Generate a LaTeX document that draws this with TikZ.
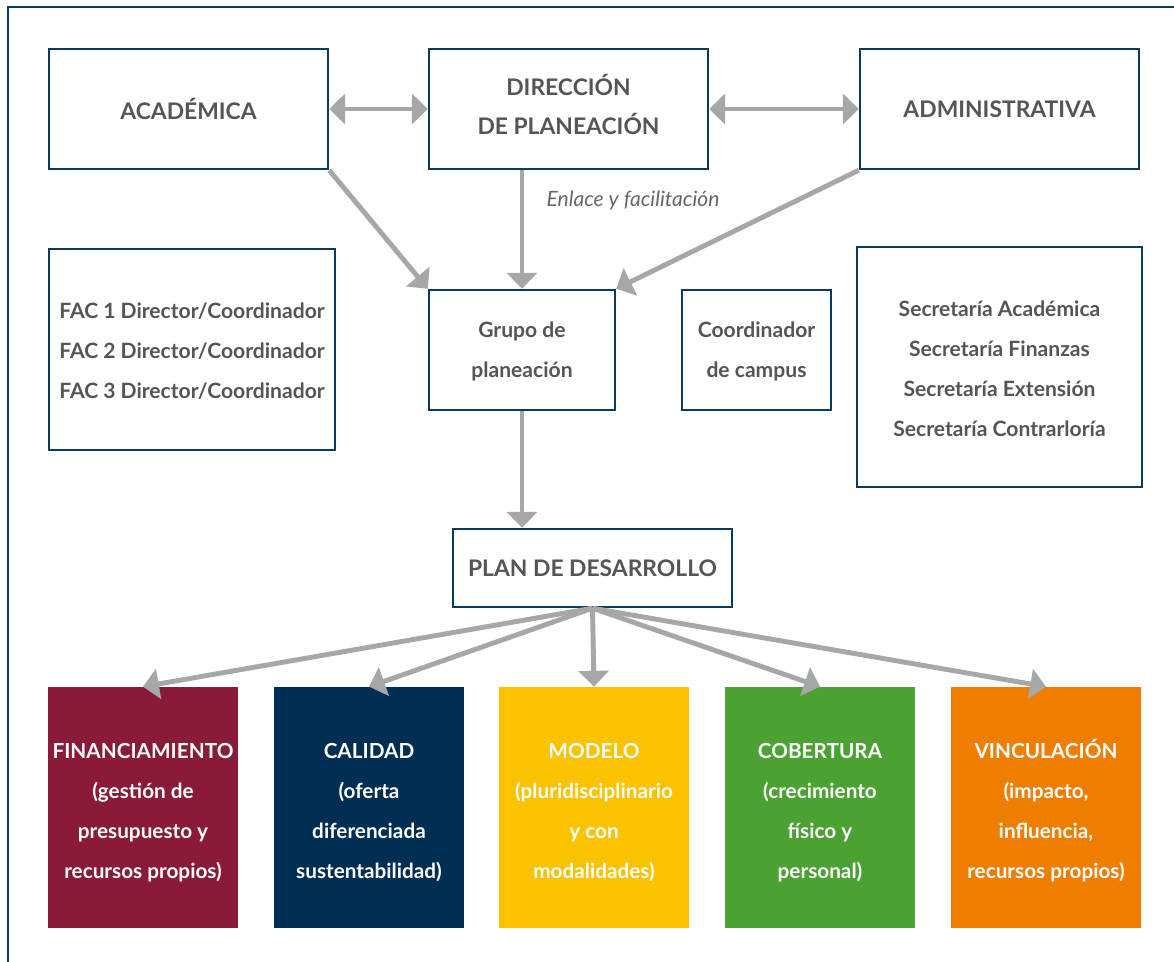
\documentclass[tikz,border=0pt]{standalone}
\usepackage{fontspec}
\setmainfont{Lato}
\usetikzlibrary{arrows.meta}

\definecolor{framecolor}{HTML}{0D3A5F}
\definecolor{textgray}{HTML}{555555}
\definecolor{arrowgray}{HTML}{A6A7A9}
\definecolor{fincolor}{HTML}{8A1B38}
\definecolor{calcolor}{HTML}{002E52}
\definecolor{modcolor}{HTML}{FBC200}
\definecolor{cobcolor}{HTML}{4BA232}
\definecolor{vincolor}{HTML}{EF7D00}

\begin{document}
\begin{tikzpicture}
  [x=0.02cm,y=-0.02cm,
   % Styles
   box/.style={draw=framecolor,line width=1.4pt,fill=white,inner sep=0pt,
     text=textgray,align=center},
   big text/.style={font=\bfseries\fontsize{13}{22.2}\selectfont},
   small text/.style={font=\bfseries\fontsize{12}{22.8}\selectfont},
   area/.style={inner sep=0pt,minimum width=3.8cm,text height=3.84cm,text depth=0.98cm,
     text=white,align=center,font=\bfseries\fontsize{11.8}{22.8}\selectfont},
   link/.style={draw=arrowgray,line width=2.8pt,
     -{Triangle[length=9pt,width=17pt]}},
   both link/.style={link,{Triangle[length=9pt,width=17pt]}-{Triangle[length=9pt,width=17pt]}}]

  \useasboundingbox (0,0) rectangle (1174,962);

  % Frame
  \draw[framecolor,line width=1.3pt] (8,962) -- (8,7) -- (1174,7);

  % Top row
  \node[box,big text,minimum width=5.58cm,minimum height=2.4cm] (acad) at (188.5,109) {ACADÉMICA};
  \node[box,big text,minimum width=5.58cm,text height=1.72cm,text depth=0.68cm] (direc) at (568.5,109) {DIRECCIÓN\\DE PLANEACIÓN};
  \node[box,big text,minimum width=5.58cm,minimum height=2.4cm] (admin) at (999.5,109) {ADMINISTRATIVA};

  % Middle row
  \node[box,small text,minimum width=5.72cm,text height=3.0cm,text depth=1.02cm] (fac) at (192,349.5)
    {FAC 1 Director/Coordinador\\FAC 2 Director/Coordinador\\FAC 3 Director/Coordinador};
  \node[box,small text,minimum width=3.72cm,text height=1.76cm,text depth=0.64cm] (grupo) at (522,350) {Grupo de\\planeación};
  \node[box,small text,minimum width=2.98cm,text height=1.76cm,text depth=0.64cm] (campus) at (756.5,350) {Coordinador\\de campus};
  \node[box,small text,minimum width=5.7cm,text height=3.8cm,text depth=1.0cm] (secre) at (999.5,367)
    {Secretaría Académica\\Secretaría Finanzas\\Secretaría Extensión\\Secretaría Contrarloría};

  \node[box,big text,minimum width=5.58cm,minimum height=1.56cm] (plan) at (592.5,568) {PLAN DE DESARROLLO};

  % Bottom row
  \node[area,fill=fincolor] (fin) at (143,807.5) {FINANCIAMIENTO\\(gestión de\\presupuesto y\\recursos propios)};
  \node[area,fill=calcolor] (cal) at (369,807.5) {CALIDAD\\(oferta\\diferenciada\\sustentabilidad)};
  \node[area,fill=modcolor] (mod) at (594,807.5) {MODELO\\(pluridisciplinario\\y con\\modalidades)};
  \node[area,fill=cobcolor] (cob) at (820,807.5) {COBERTURA\\(crecimiento\\físico y\\personal)};
  \node[area,fill=vincolor] (vin) at (1046,807.5) {VINCULACIÓN\\(impacto,\\influencia,\\recursos propios)};

  \node[text=textgray!90,font=\itshape\fontsize{12}{14}\selectfont] (enlace) at (633,201) {Enlace y facilitación};

  % Connectors
  \draw[both link] (acad) -- (direc);
  \draw[both link] (direc) -- (admin);
  \draw[link] (acad.south east) -- (grupo.north west);
  \draw[link] (grupo.north |- direc.south) -- (grupo.north);
  \draw[link] (admin.south west) -- (grupo.north east);
  \draw[link] (grupo.south) -- (grupo.south |- plan.north);
  \foreach \target in {fin,cal,mod,cob,vin}
    \draw[link] (plan.south) -- (\target.north);
\end{tikzpicture}
\end{document}
